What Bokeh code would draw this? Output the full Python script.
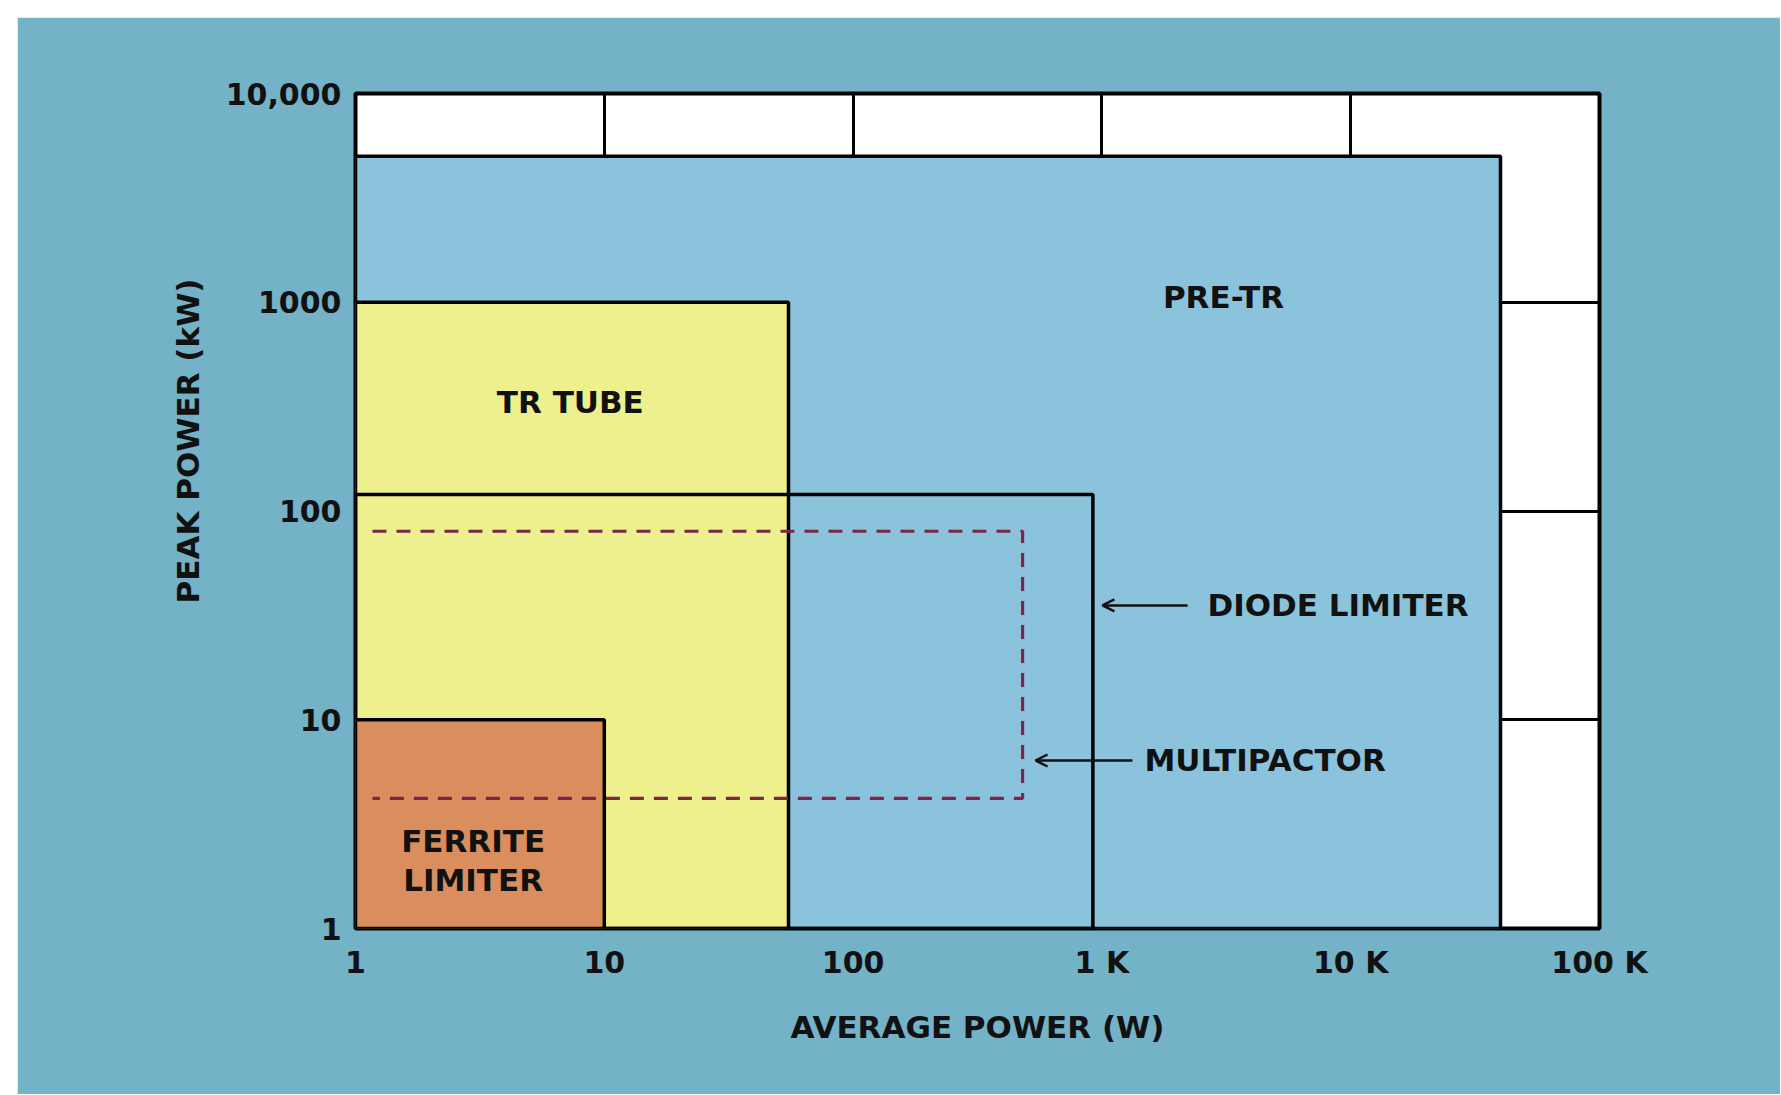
import math
from bokeh.plotting import figure
from bokeh.models import Range1d, FixedTicker, Title, Arrow, OpenHead, ColumnDataSource
from bokeh.core.properties import value
from bokeh.embed import file_html
from bokeh.resources import INLINE

# ---------------- data ----------------
x_ticks = [1, 10, 100, 1000, 10000, 100000]
x_tick_labels = ["1", "10", "100", "1 K", "10 K", "100 K"]
y_ticks = [1, 10, 100, 1000, 10000]
y_tick_labels = ["1", "10", "100", "1000", "10,000"]

# operating regions: average power (W) x peak power (kW)
region_names = ["PRE-TR", "TR TUBE", "DIODE LIMITER", "FERRITE LIMITER"]
region_avg_lo = [1, 1, 1, 1]
region_avg_hi = [40000, 55, 920, 10]
region_peak_lo = [1, 1, 1, 1]
region_peak_hi = [5000, 1000, 120, 10]

# multipactor (dashed) region
multipactor_avg = [1.17, 480]
multipactor_peak = [4.2, 80]

# region label text and anchor values
label_text = ["PRE-TR", "TR TUBE", "FERRITE", "LIMITER"]
label_avg = [3080, 7.3, 2.97, 2.97]
label_peak = [1060, 333, 2.62, 1.70]

# arrow call-outs
callout_text = ["DIODE LIMITER", "MULTIPACTOR"]
callout_text_avg = [2655, 1483]
callout_tail_avg = [2210, 1327]
callout_head_avg = [1005, 541]
callout_peak = [35.3, 6.38]

FONT = "DejaVu Sans"
BG = "#74B2C7"
BLUE = "#8CC3DC"
YELLOW = "#EDF08C"
ORANGE = "#DA8E5E"
DASH = "#7E2646"
INK = "#111111"

p = figure(width=1763, height=1077, x_axis_type="log", y_axis_type="log",
           x_range=Range1d(1, 100000), y_range=Range1d(1, 10000),
           output_backend="svg", toolbar_location=None,
           min_border_left=338, min_border_right=181,
           min_border_top=76, min_border_bottom=166)
p.margin = (17, 0, 0, 17)
p.border_fill_color = BG
p.background_fill_color = "white"
p.outline_line_color = "black"
p.outline_line_width = 4

# grid
p.xgrid.ticker = FixedTicker(ticks=x_ticks)
p.ygrid.ticker = FixedTicker(ticks=y_ticks)
for g in (p.xgrid, p.ygrid):
    g.grid_line_color = "black"
    g.grid_line_width = 3
    g.grid_line_alpha = 1.0
    g.minor_grid_line_color = None

# axes
p.xaxis.ticker = FixedTicker(ticks=x_ticks)
p.yaxis.ticker = FixedTicker(ticks=y_ticks)
p.xaxis.major_label_overrides = {t: l for t, l in zip(x_ticks, x_tick_labels)}
p.yaxis.major_label_overrides = {t: l for t, l in zip(y_ticks, y_tick_labels)}
for ax in (p.xaxis, p.yaxis):
    ax.axis_line_color = None
    ax.major_tick_line_color = None
    ax.minor_tick_line_color = None
    ax.major_label_text_font = FONT
    ax.major_label_text_font_style = "bold"
    ax.major_label_text_font_size = "30px"
    ax.major_label_text_color = INK
p.xaxis.major_label_standoff = 10
p.yaxis.major_label_standoff = 8
p.xaxis.axis_label = "AVERAGE POWER (W)"
p.xaxis.axis_label_text_font = FONT
p.xaxis.axis_label_text_font_style = "bold"
p.xaxis.axis_label_text_font_size = "31px"
p.xaxis.axis_label_text_color = INK
p.xaxis.axis_label_standoff = 26

# y axis title, placed as a side title so it can sit above the frame centre
ytitle = Title(text="PEAK POWER (kW)", align="right", offset=185, standoff=34,
               text_font=FONT, text_font_style="bold", text_font_size="31px",
               text_color=INK)
p.add_layout(ytitle, "left")

# regions
fills = [BLUE, YELLOW, None, ORANGE]
for i in range(len(region_names)):
    p.quad(left=[region_avg_lo[i]], right=[region_avg_hi[i]],
           bottom=[region_peak_lo[i]], top=[region_peak_hi[i]],
           fill_color=fills[i], fill_alpha=1.0 if fills[i] else 0.0,
           line_color="black", line_width=3.5)

# multipactor dashed boundary (open on the left)
mx = [multipactor_avg[0], multipactor_avg[1], multipactor_avg[1], multipactor_avg[0]]
my = [multipactor_peak[1], multipactor_peak[1], multipactor_peak[0], multipactor_peak[0]]
p.line(mx, my, line_color=DASH, line_width=3.2, line_dash="14 10")

# region labels
src = ColumnDataSource(dict(x=label_avg, y=label_peak, t=label_text))
p.text(x="x", y="y", text="t", source=src, text_font=value(FONT),
       text_font_style="bold", text_font_size="31px", text_color=INK,
       text_align="center", text_baseline="middle")

# call-outs
src2 = ColumnDataSource(dict(x=callout_text_avg, y=callout_peak, t=callout_text))
p.text(x="x", y="y", text="t", source=src2, text_font=value(FONT),
       text_font_style="bold", text_font_size="31px", text_color=INK,
       text_align="left", text_baseline="middle")
for xs, xe, yv in zip(callout_tail_avg, callout_head_avg, callout_peak):
    p.add_layout(Arrow(end=OpenHead(size=12, line_width=2.5, line_color=INK),
                       x_start=xs, y_start=yv, x_end=xe, y_end=yv,
                       line_width=2.5, line_color=INK))

open("out.html", "w").write(file_html(p, INLINE))
